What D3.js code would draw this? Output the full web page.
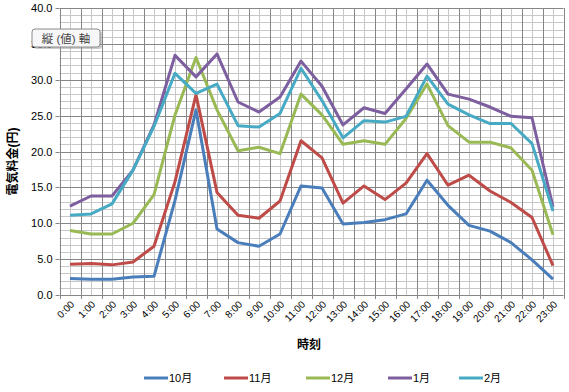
<!DOCTYPE html>
<html>
<head>
<meta charset="utf-8">
<script src="https://cdn.jsdelivr.net/npm/d3@7"></script>
<style>
  body { margin: 0; background: #fff; }
  text { font-family: "Liberation Sans", Arial, "Noto Sans CJK JP", sans-serif; }
</style>
</head>
<body>
<script>
// hours on the x axis
var hours = d3.range(24).map(function(h) { return h + ":00"; });

// monthly series (yen per hour)
var oct = [2.3,2.2,2.2,2.5,2.6,13.2,25.8,9.2,7.3,6.8,8.5,15.2,14.9,9.9,10.1,10.5,11.3,16.0,12.5,9.7,8.9,7.3,4.9,2.2];
var nov = [4.3,4.4,4.2,4.6,6.8,15.8,27.9,14.3,11.1,10.7,13.1,21.5,19.1,12.8,15.2,13.3,15.6,19.7,15.3,16.7,14.5,12.9,10.8,4.1];
var dec = [9.0,8.5,8.5,10.0,14.0,25.1,33.1,25.8,20.1,20.6,19.7,28.0,25.1,21.0,21.5,21.0,24.6,29.4,23.6,21.3,21.3,20.5,17.4,8.4];
var jan = [12.4,13.8,13.8,17.4,23.7,33.4,30.4,33.6,26.9,25.5,27.6,32.6,29.1,23.7,26.1,25.3,28.7,32.2,28.0,27.3,26.2,24.9,24.7,12.3];
var feb = [11.1,11.3,12.7,17.4,23.5,30.9,28.1,29.4,23.6,23.4,25.3,31.6,27.1,21.9,24.3,24.1,24.9,30.5,26.6,25.1,23.9,23.9,21.1,11.7];

var seriesNames = ["10月", "11月", "12月", "1月", "2月"];
var seriesColors = ["#4a7ebb", "#be4b48", "#98b954", "#7d5fa0", "#46aac4"];
var series = [oct, nov, dec, jan, feb];

var yTicks = d3.range(0, 41, 5);

var W = 569, H = 392;
var plot = {left: 59.5, right: 563.5, top: 8, bottom: 295};

var svg = d3.select("body").append("svg")
    .attr("width", W)
    .attr("height", H);

var x = d3.scaleBand()
    .domain(hours)
    .range([plot.left, plot.right]);

var y = d3.scaleLinear()
    .domain([0, 40])
    .range([plot.bottom, plot.top]);

var g = svg.append("g");

// minor grid (every 1 unit / every half band)
g.selectAll(".hminor")
    .data(d3.range(1, 40))
    .enter().append("line")
    .attr("x1", plot.left).attr("x2", plot.right)
    .attr("y1", function(d) { return Math.round(y(d)) + 0.5; })
    .attr("y2", function(d) { return Math.round(y(d)) + 0.5; })
    .attr("stroke", "#c8c8c8");

g.selectAll(".vminor")
    .data(hours)
    .enter().append("line")
    .attr("y1", plot.top).attr("y2", plot.bottom)
    .attr("x1", function(d) { return Math.round(x(d) + x.bandwidth() / 2) + 0.5; })
    .attr("x2", function(d) { return Math.round(x(d) + x.bandwidth() / 2) + 0.5; })
    .attr("stroke", "#c8c8c8");

// major grid
g.selectAll(".hmajor")
    .data(yTicks)
    .enter().append("line")
    .attr("x1", plot.left).attr("x2", plot.right)
    .attr("y1", function(d) { return Math.round(y(d)) + 0.5; })
    .attr("y2", function(d) { return Math.round(y(d)) + 0.5; })
    .attr("stroke", "#868686");

g.selectAll(".vmajor")
    .data(hours.concat(["end"]))
    .enter().append("line")
    .attr("y1", plot.top).attr("y2", plot.bottom + 4)
    .attr("x1", function(d, i) { return Math.round(plot.left + i * x.bandwidth()) + 0.5; })
    .attr("x2", function(d, i) { return Math.round(plot.left + i * x.bandwidth()) + 0.5; })
    .attr("stroke", "#868686");

// y axis ticks on left
g.selectAll(".ytick")
    .data(yTicks)
    .enter().append("line")
    .attr("x1", plot.left - 4).attr("x2", plot.left)
    .attr("y1", function(d) { return Math.round(y(d)) + 0.5; })
    .attr("y2", function(d) { return Math.round(y(d)) + 0.5; })
    .attr("stroke", "#868686");

// y tick labels
g.selectAll(".ylab")
    .data(yTicks)
    .enter().append("text")
    .attr("x", plot.left - 7)
    .attr("y", function(d) { return y(d) + 4; })
    .attr("text-anchor", "end")
    .attr("font-size", 11)
    .attr("fill", "#000")
    .text(function(d) { return d.toFixed(1); });

// x tick labels, rotated
g.selectAll(".xlab")
    .data(hours)
    .enter().append("text")
    .attr("transform", function(d) {
      return "translate(" + (x(d) + x.bandwidth() / 2 + 5) + "," + (plot.bottom + 10) + ") rotate(-45)";
    })
    .attr("text-anchor", "end")
    .attr("font-size", 10)
    .text(function(d) { return d; });

// lines
var line = d3.line()
    .x(function(d, i) { return x(hours[i]) + x.bandwidth() / 2; })
    .y(function(d) { return y(d); });

svg.append("g").selectAll("path")
    .data(series)
    .enter().append("path")
    .attr("d", line)
    .attr("fill", "none")
    .attr("stroke", function(d, i) { return seriesColors[i]; })
    .attr("stroke-width", 3)
    .attr("stroke-linejoin", "round");

// axis titles
svg.append("text")
    .attr("x", 309).attr("y", 349)
    .attr("text-anchor", "middle")
    .attr("font-size", 12)
    .attr("font-weight", "bold")
    .text("時刻");

svg.append("text")
    .attr("transform", "translate(17," + ((plot.top + plot.bottom) / 2 + 10) + ") rotate(-90)")
    .attr("text-anchor", "middle")
    .attr("font-size", 12)
    .attr("font-weight", "bold")
    .text("電気料金(円)");

// legend
var legendX = [144, 224, 306, 388, 459];
var legend = svg.append("g").selectAll("g")
    .data(seriesNames)
    .enter().append("g")
    .attr("transform", function(d, i) { return "translate(" + legendX[i] + ",378)"; });

legend.append("line")
    .attr("x1", 0).attr("x2", 24)
    .attr("y1", 0).attr("y2", 0)
    .attr("stroke", function(d, i) { return seriesColors[i]; })
    .attr("stroke-width", 3);

legend.append("text")
    .attr("x", 25).attr("y", 4)
    .attr("font-size", 11)
    .text(function(d) { return d; });

// tooltip box (縦 (値) 軸)
var tip = svg.append("g").attr("transform", "translate(32,29)");
tip.append("rect")
    .attr("x", 2).attr("y", 2)
    .attr("width", 68).attr("height", 18)
    .attr("rx", 3)
    .attr("fill", "#999").attr("opacity", 0.5);
tip.append("rect")
    .attr("width", 68).attr("height", 18)
    .attr("rx", 3)
    .attr("fill", "#f7f7f9")
    .attr("stroke", "#8a8a8a");
tip.append("text")
    .attr("x", 34).attr("y", 13.5)
    .attr("text-anchor", "middle")
    .attr("font-size", 11.5)
    .attr("fill", "#444")
    .text("縦 (値) 軸");
</script>
</body>
</html>
